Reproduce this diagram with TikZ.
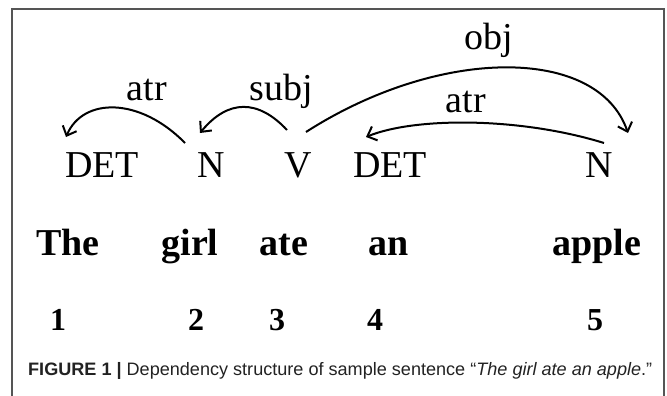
\documentclass[tikz,border=0pt]{standalone}
\usepackage{fontspec}
\usepackage{graphicx}
\setmainfont{Liberation Serif}
\newfontfamily\capfont{Liberation Sans}
\usetikzlibrary{arrows.meta}
\definecolor{framegray}{HTML}{555555}
\definecolor{capgray}{HTML}{222222}
\tikzset{
  postag/.style={anchor=base, inner sep=0pt, font=\fontsize{38}{40}\selectfont},
  rellabel/.style={anchor=base, inner sep=0pt, font=\fontsize{38}{40}\selectfont},
  wordtext/.style={anchor=base, inner sep=0pt, font=\fontsize{38}{40}\selectfont\bfseries},
  numtext/.style={anchor=base, inner sep=0pt, font=\fontsize{32}{34}\selectfont\bfseries},
  deparc/.style={line width=2pt, -{Straight Barb[length=8pt,width=15pt,line width=2pt]}},
  boxframe/.style={draw=framegray, line width=1.5pt},
}
\begin{document}
\begin{tikzpicture}[x=1pt,y=-1pt]
\useasboundingbox (0,0) rectangle (667,396);
\draw[boxframe] (12,396) -- (12,9) -- (664,9) -- (664,396);
% POS tags
\node[postag] (det1) at (102,177) {DET};
\node[postag] (n1) at (211,177) {N};
\node[postag] (v) at (298,177) {V};
\node[postag] (det2) at (390,177) {DET};
\node[postag] (n2) at (599,177) {N};
% arc end points
\coordinate (a1s) at (185,143);
\coordinate (a1e) at (66,137);
\coordinate (sbs) at (287,130);
\coordinate (sbe) at (200,133);
\coordinate (obs) at (306,132);
\coordinate (obe) at (628,133);
\coordinate (a2s) at (604,143);
\coordinate (a2e) at (366,137);
\draw[deparc] (a1s) .. controls (140,97) and (83,97) .. (a1e);
\draw[deparc] (sbs) .. controls (258,99) and (228,99) .. (sbe);
\draw[deparc] (obs) .. controls (440,46) and (598,46) .. (obe);
\draw[deparc] (a2s) .. controls (520,117) and (415,117) .. (a2e);
% relation labels
\node[rellabel] (l1) at (147,100) {atr};
\node[rellabel] (l2) at (281,100) {subj};
\node[rellabel] (l3) at (489,50) {obj};
\node[rellabel] (l4) at (466,113) {atr};
% words
\node[wordtext] (w1) at (68,255) {The};
\node[wordtext] (w2) at (190,255) {girl};
\node[wordtext] (w3) at (284,255) {ate};
\node[wordtext] (w4) at (389,255) {an};
\node[wordtext] (w5) at (597,255) {apple};
% numbers
\node[numtext] (i1) at (58,330) {1};
\node[numtext] (i2) at (196,330) {2};
\node[numtext] (i3) at (277,330) {3};
\node[numtext] (i4) at (375,330) {4};
\node[numtext] (i5) at (595,330) {5};
% caption
\node[anchor=base west, inner sep=0pt, text=capgray, font=\capfont\fontsize{18}{20}\selectfont] (cap) at (28,375)
  {\resizebox{624pt}{\height}{\textbf{FIGURE 1} \textbf{|} Dependency structure of sample sentence “\textit{The girl ate an apple}.”}};
\end{tikzpicture}
\end{document}
